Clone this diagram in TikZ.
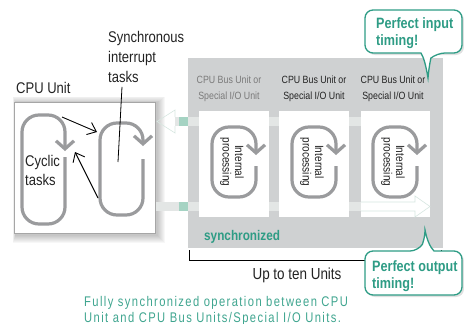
\documentclass[tikz,border=0pt]{standalone}
\usepackage{fontspec}
\setmainfont{Liberation Sans}[FakeStretch=0.84]
\newfontfamily\capfont{Liberation Sans}[FakeStretch=0.8,LetterSpace=10]
\usetikzlibrary{arrows.meta}
\definecolor{tealA}{HTML}{2E9C85}
\definecolor{tealB}{HTML}{3FA58F}
\definecolor{tealSq}{HTML}{A5D3C3}
\definecolor{panelgray}{HTML}{CFD1D2}
\definecolor{loopgray}{HTML}{9A9B9D}
\definecolor{barlight}{HTML}{E3E6E5}
\definecolor{outl}{HTML}{D6E6E0}
\definecolor{darktxt}{HTML}{222222}
\definecolor{labgray}{HTML}{7A7A7A}
\newcommand\myloop[6]{% x1 y1 x2 y2 arrowEndY restartY
  \draw[loopline,rounded corners=17] (#3,#6) -- (#3,#4) -- (#1,#4) -- (#1,#2) -- (#3,#2) -- (#3,#5);
}
\tikzset{
  loopline/.style={draw=loopgray,line width=3.2pt,-{Straight Barb[length=8pt,width=18pt]}},
  blackarrow/.style={draw=black,line width=0.9pt,-{Straight Barb[length=8pt,width=13pt]}},
  unitcol/.style={fill=white,draw=none},
  callout/.style={draw=tealA,line width=1.3pt,fill=white},
  calltext/.style={text=tealA,font=\bfseries\fontsize{15}{17}\selectfont,align=left,inner sep=0pt,anchor=north west},
  unitlabel/.style={font=\fontsize{10.5}{16}\selectfont,align=center,inner sep=0pt,anchor=north},
  proc/.style={font=\fontsize{12}{12.5}\selectfont,align=center,inner sep=0pt,rotate=-90,text=darktxt},
  bigtxt/.style={font=\fontsize{15.5}{20}\selectfont,align=left,inner sep=0pt,text=darktxt},
}
\begin{document}
\begin{tikzpicture}[x=1pt,y=-1pt]
\useasboundingbox (0,0) rectangle (464,324);
% ---- CPU unit box with shadow
\foreach \i in {1,...,8}
  \fill[black,opacity=0.03] (15.5-\i*0.3,103-\i*0.8) rectangle (157+\i,235+\i);
\node[draw=gray!70,fill=white,line width=0.5pt,minimum width=141pt,minimum height=131pt,inner sep=0pt,anchor=north west] (cpu) at (14,102) {};
\node[bigtxt,anchor=base west] (cpulab) at (16,93) {CPU Unit};
% ---- gray panel
\fill[panelgray] (188,58) rectangle (443,248);
% bus bars
\fill[barlight] (175,117) rectangle (430,126);
\fill[barlight] (156,202) rectangle (415,211);
\fill[tealSq] (179,117) rectangle (188,126);
\fill[tealSq] (179,202) rectangle (188,211);
% unit columns
\node[unitcol,minimum width=70pt,minimum height=106pt,inner sep=0pt,anchor=north west] (u1) at (199,111) {};
\node[unitcol,minimum width=70pt,minimum height=106pt,inner sep=0pt,anchor=north west] (u2) at (279,111) {};
\node[unitcol,minimum width=69pt,minimum height=106pt,inner sep=0pt,anchor=north west] (u3) at (361,111) {};
% outline arrows of bus
\draw[outl,line width=0.6pt] (175,117) -- (175,110) -- (157,121.5) -- (175,133) -- (175,126);
\draw[outl,line width=0.6pt] (361,202) -- (415,202) -- (415,196) -- (430,206.5) -- (415,217) -- (415,211) -- (361,211);
% unit labels
\node[unitlabel,text=labgray] (l1) at (229,76) {CPU Bus Unit or\\Special I/O Unit};
\node[unitlabel,text=darktxt] (l2) at (314,76) {CPU Bus Unit or\\Special I/O Unit};
\node[unitlabel,text=darktxt] (l3) at (393,76) {CPU Bus Unit or\\Special I/O Unit};
% internal loops
\myloop{212}{127}{256}{197}{155}{166}
\myloop{292}{127}{336}{197}{155}{166}
\myloop{373}{127}{417}{197}{155}{166}
\node[proc] (p1) at (232,162) {Internal\\processing};
\node[proc] (p2) at (312,162) {Internal\\processing};
\node[proc] (p3) at (393,162) {Internal\\processing};
% synchronized
\node[text=tealA,font=\bfseries\fontsize{14}{16}\selectfont,inner sep=0pt,anchor=base west] (sync) at (204,240) {synchronized};
% ---- CPU loops
\myloop{22}{115}{65}{224}{151}{157}
\myloop{100}{123}{143}{215}{146}{159}
\node[bigtxt,anchor=north west,font=\fontsize{15.5}{19}\selectfont] (cyc) at (25,155) {Cyclic\\tasks};
\node[bigtxt,anchor=north west] (sit) at (108,31) {Synchronous\\interrupt\\tasks};
\coordinate (a1s) at (62,117); \coordinate (a1e) at (97,132);
\coordinate (a2s) at (98,198); \coordinate (a2e) at (75,152);
\draw[blackarrow] (a1s) -- (a1e);
\draw[blackarrow] (a2s) -- (a2e);
\coordinate (pin) at (118,162);
\draw[black,line width=0.8pt] (sit.south west) ++(14,4) -- (pin);
% ---- bracket
\coordinate (b1) at (189,250); \coordinate (b2) at (189,260);
\coordinate (b3) at (441,260); \coordinate (b4) at (441,250);
\draw[black,line width=1pt] (b1) -- (b2) -- (b3) -- (b4);
\node[bigtxt,anchor=base,font=\fontsize{16}{18}\selectfont] (upto) at (297,279) {Up to ten Units};
% ---- callouts
\fill[black,opacity=0.12,rounded corners=8] (367,12) rectangle (464,55);
\draw[callout,rounded corners=8] (365,10) -- (462,10) -- (462,53) -- (437,53) [sharp corners] .. controls (431,58) and (429,66) .. (428,78) .. controls (426,66) and (424,58) .. (421,53) [rounded corners=8] -- (365,53) -- cycle;
\node[calltext] (c1) at (376,17) {Perfect input\\timing!};
\fill[black,opacity=0.12,rounded corners=8] (367,253) rectangle (464,297);
\draw[callout,rounded corners=8] (365,251) -- (418,251) [sharp corners] .. controls (422,245) and (425,238) .. (425,230) .. controls (427,240) and (430,247) .. (434,251) [rounded corners=8] -- (462,251) -- (462,295) -- (365,295) -- cycle;
\node[calltext] (c2) at (372,260) {Perfect output\\timing!};
% ---- caption
\node[text=tealB,font=\capfont\fontsize{14}{16}\selectfont,align=left,inner sep=0pt,anchor=north west] (cap) at (84,296) {Fully synchronized operation between CPU\\Unit and CPU Bus Units/Special I/O Units.};
\end{tikzpicture}
\end{document}
